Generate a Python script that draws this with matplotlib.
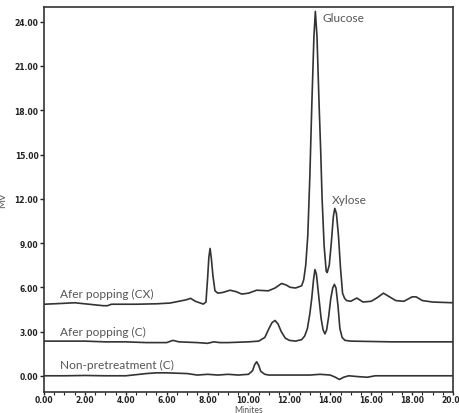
import matplotlib.pyplot as plt

# (minutes, mV)
cx_t = [0, 0.8, 1.5, 2.2, 2.9, 3.1, 3.3, 4.5, 5.5, 6.16, 6.6, 6.95, 7.17, 7.4, 7.79, 7.92,
        8.0, 8.06, 8.12, 8.18, 8.26, 8.36, 8.5, 8.75, 9.1, 9.4, 9.67, 10.0, 10.4, 10.97,
        11.3, 11.62, 11.85, 12.03, 12.3, 12.6, 12.7, 12.8, 12.9, 13.0, 13.1, 13.2, 13.27,
        13.35, 13.45, 13.53, 13.6, 13.7, 13.8, 13.85, 13.95, 14.05, 14.15, 14.22, 14.3,
        14.4, 14.5, 14.6, 14.7, 14.8, 15.0, 15.3, 15.6, 16.0, 16.3, 16.6, 16.9, 17.2, 17.6,
        18.0, 18.2, 18.5, 19.0, 20.0]
cx_v = [4.85, 4.9, 4.95, 4.85, 4.75, 4.75, 4.85, 4.85, 4.88, 4.93, 5.05, 5.15, 5.25, 5.05,
        4.86, 5.0, 6.6, 8.0, 8.63, 8.0, 6.8, 5.76, 5.6, 5.65, 5.8, 5.7, 5.54, 5.6, 5.8, 5.76,
        5.95, 6.26, 6.15, 6.0, 5.95, 6.1, 6.5, 7.5, 9.5, 13.5, 18.5, 23.0, 24.7, 23.0, 18.5,
        15.3, 12.0, 8.8, 7.1, 7.0, 7.5, 9.0, 10.8, 11.35, 11.0, 9.5, 7.3, 5.6, 5.25, 5.1,
        5.05, 5.27, 5.0, 5.05, 5.3, 5.6, 5.35, 5.1, 5.05, 5.35, 5.35, 5.1, 5.0, 4.95]

c_t = [0, 2, 3, 4, 5, 6, 6.3, 6.6, 7.5, 8.0, 8.3, 8.6, 9.0, 10.0, 10.5, 10.8, 11.0, 11.15,
       11.3, 11.45, 11.6, 11.8, 12.0, 12.3, 12.6, 12.75, 12.88, 13.0, 13.09, 13.18, 13.25,
       13.32, 13.45, 13.55, 13.65, 13.74, 13.82, 13.92, 14.02, 14.12, 14.2, 14.28, 14.38,
       14.47, 14.58, 14.72, 15.0, 17.0, 20.0]
c_v = [2.35, 2.35, 2.3, 2.3, 2.25, 2.25, 2.4, 2.3, 2.25, 2.2, 2.3, 2.25, 2.25, 2.3, 2.35,
       2.6, 3.2, 3.6, 3.75, 3.5, 3.0, 2.55, 2.4, 2.35, 2.45, 2.7, 3.2, 4.2, 5.2, 6.5, 7.2,
       6.9, 5.2, 3.9, 3.1, 2.84, 3.1, 4.0, 5.2, 5.95, 6.2, 5.95, 4.7, 3.2, 2.6, 2.4, 2.35,
       2.3, 2.3]

n_t = [0, 1, 2, 3, 4, 5, 5.5, 6, 7, 7.5, 8, 8.5, 9, 9.5, 10.0, 10.2, 10.3, 10.4, 10.5,
       10.6, 10.8, 11, 12, 13, 13.5, 14.0, 14.25, 14.45, 14.65, 14.9, 15.3, 15.8, 16.2,
       17, 20]
n_v = [0.0, 0.0, 0.02, 0.0, 0.0, 0.15, 0.2, 0.2, 0.15, 0.05, 0.1, 0.05, 0.1, 0.05, 0.1,
       0.35, 0.75, 0.95, 0.7, 0.3, 0.1, 0.05, 0.05, 0.05, 0.1, 0.05, -0.1, -0.25, -0.1,
       0.0, -0.05, -0.1, 0.0, 0.0, 0.0]

series = [(cx_t, cx_v, 'Afer popping (CX)', 5.6),
          (c_t, c_v, 'Afer popping (C)', 2.97),
          (n_t, n_v, 'Non-pretreatment (C)', 0.75)]

xticks = [0, 2, 4, 6, 8, 10, 12, 14, 16, 18, 20]
yticks = [0, 3, 6, 9, 12, 15, 18, 21, 24]

fig = plt.figure(figsize=(4.6, 4.14), dpi=100)
ax = fig.add_axes([0.0957, 0.0507, 0.889, 0.930])

lab_font = ['Lato', 'DejaVu Sans']
for t, v, name, ly in series:
    ax.plot(t, v, color='#333333', lw=1.2)
    ax.text(0.78, ly, name, fontsize=8.6, color='#555555', family=lab_font, va='center')

ax.text(13.6, 24.3, 'Glucose', fontsize=8.6, color='#555555', family=lab_font, va='center')
ax.text(14.08, 11.95, 'Xylose', fontsize=8.6, color='#555555', family=lab_font, va='center')

ax.set_xlim(0, 20)
ax.set_ylim(-1.1, 25)
ax.set_xticks(xticks)
ax.set_xticks([x / 2 for x in range(41)], minor=True)
ax.set_xticklabels(['%.2f' % x for x in xticks])
ax.set_yticks(yticks)
ax.set_yticklabels(['%.2f' % y for y in yticks])
ax.tick_params(which='major', length=3, width=1, labelsize=5.5, pad=1, colors='#222222')
ax.tick_params(axis='x', which='major', length=2.5, pad=0)
ax.tick_params(which='minor', length=2, width=0.8, colors='#222222')
for lbl in ax.get_xticklabels() + ax.get_yticklabels():
    lbl.set_fontweight('bold')
for s in ax.spines.values():
    s.set_linewidth(1.2)
    s.set_color('#333333')

ax.set_xlabel('Minites', fontsize=6.2, family=lab_font, color='#555555')
ax.xaxis.set_label_coords(0.5, -0.035)
ax.set_ylabel('MV', fontsize=7, family=lab_font, color='#555555', labelpad=5)

fig.savefig('out.png', dpi=100)
